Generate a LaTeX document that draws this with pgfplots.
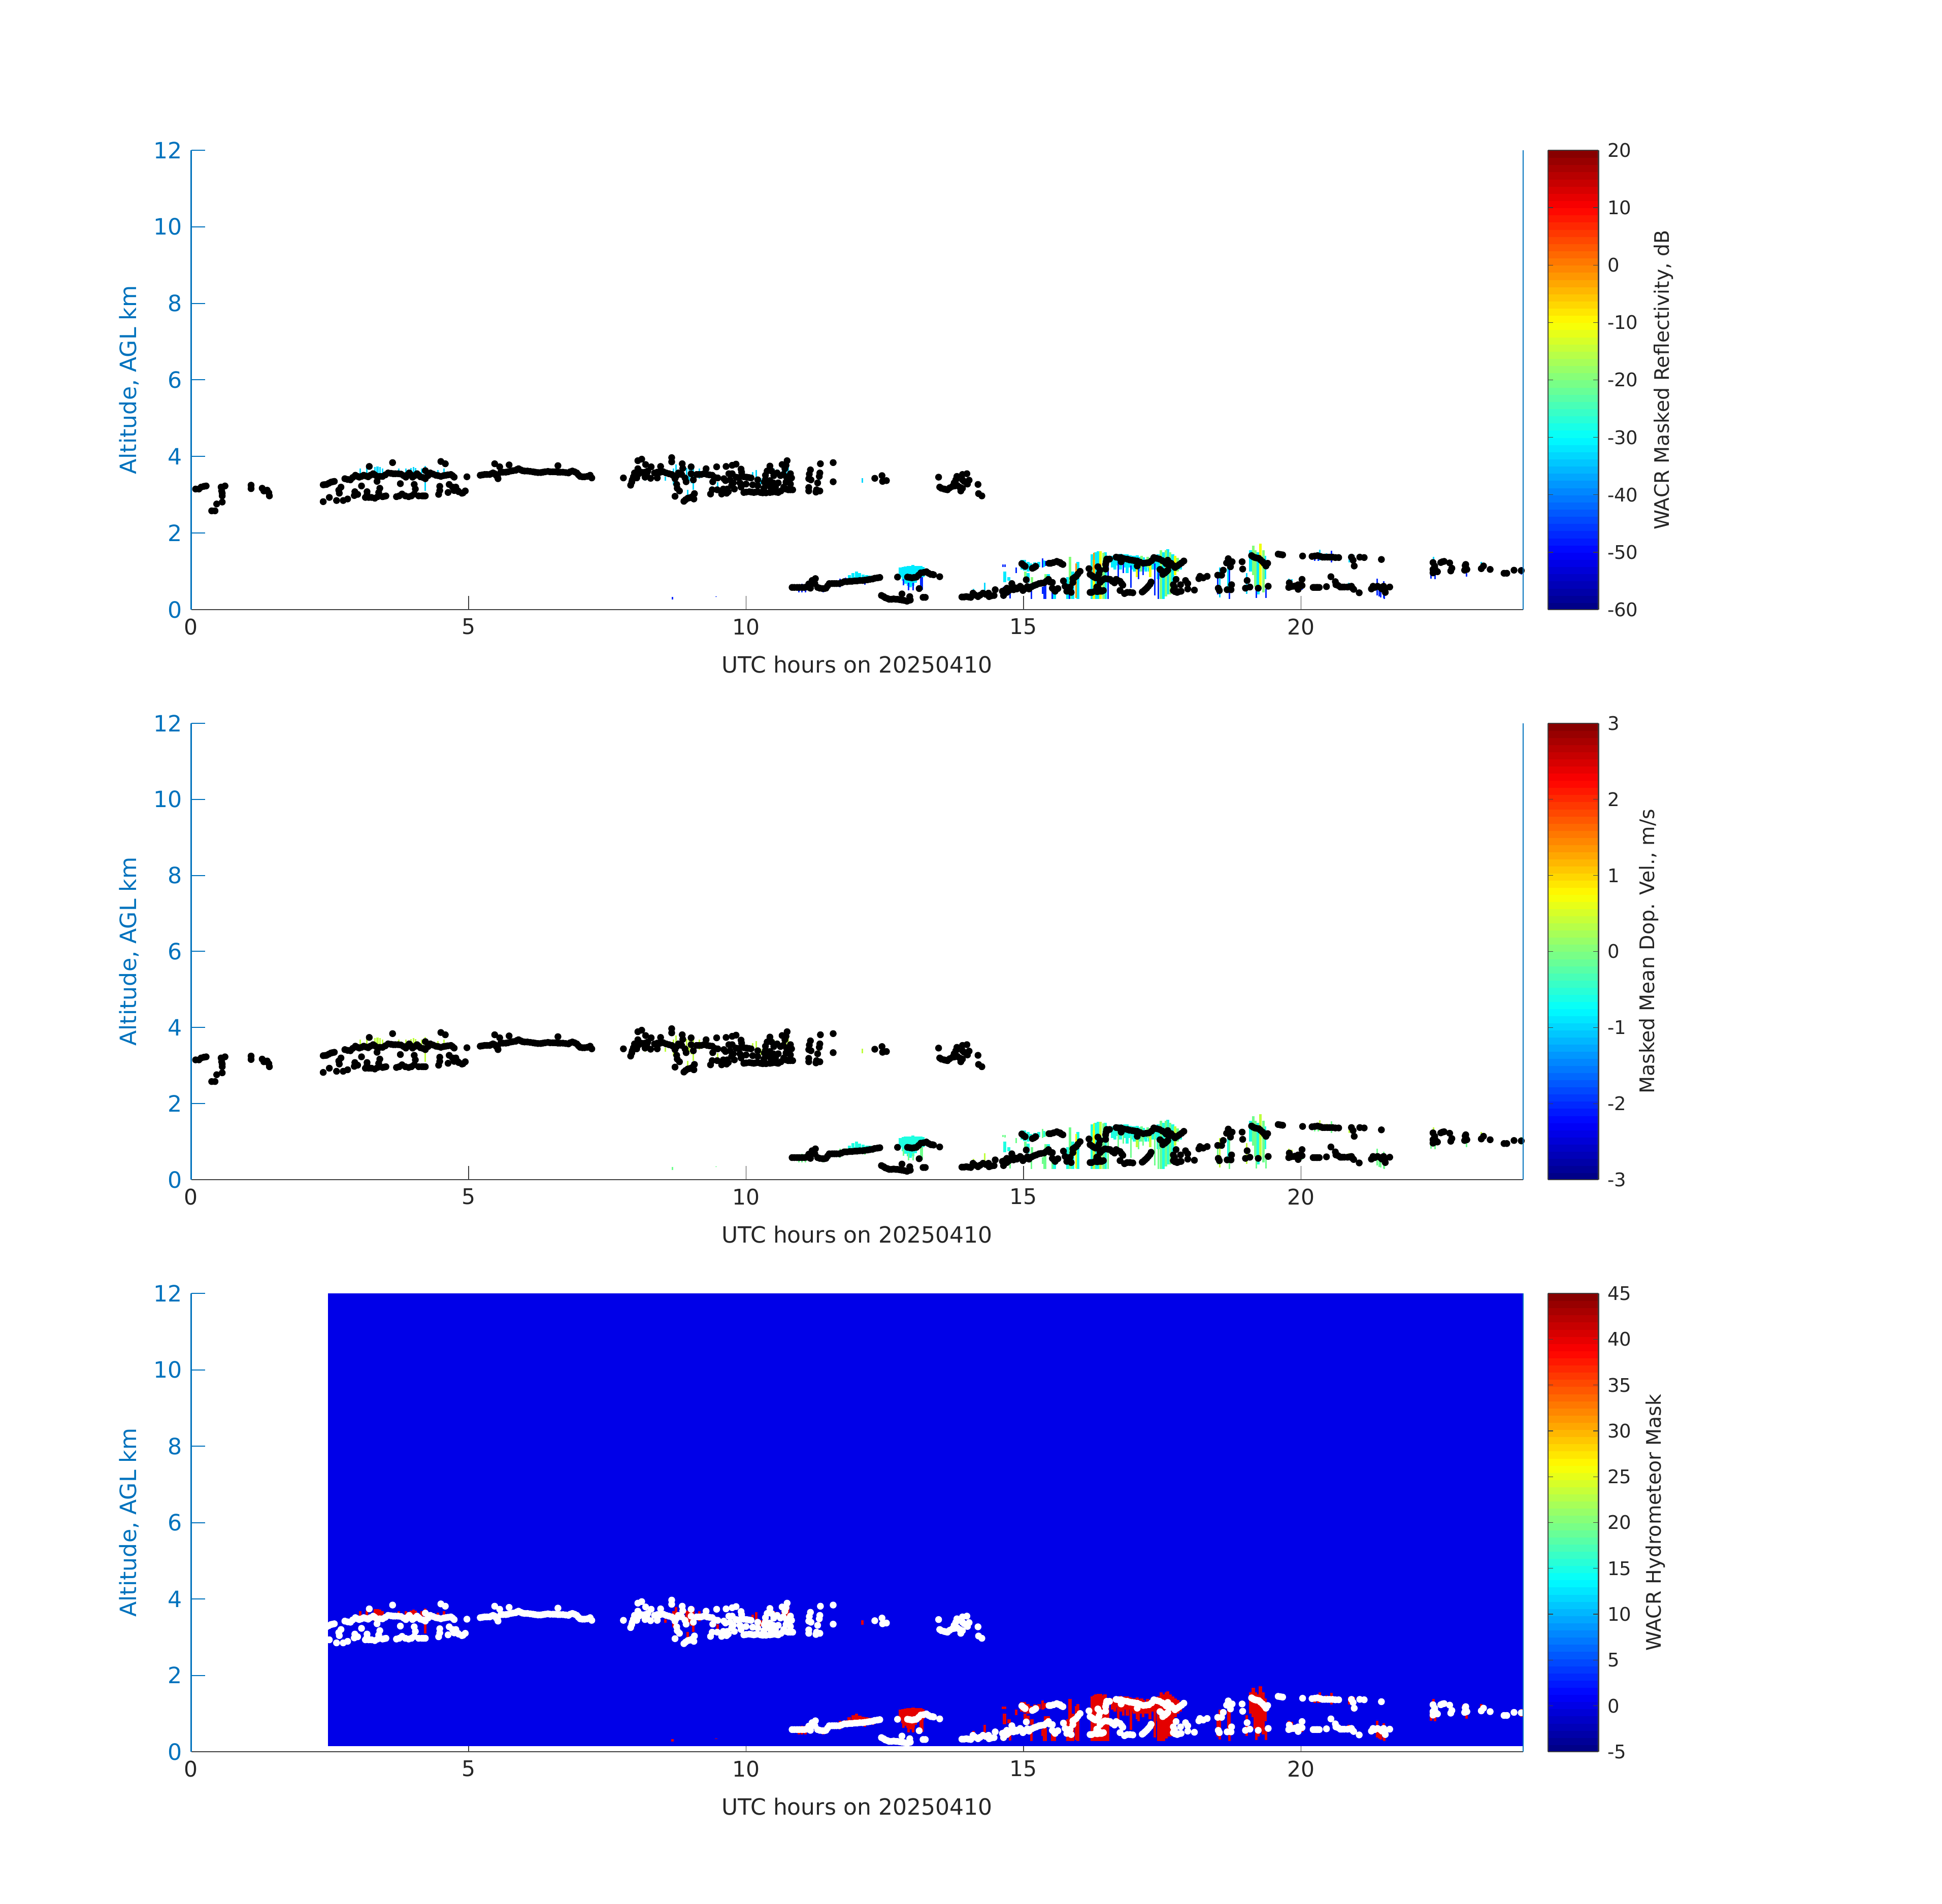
\documentclass[border=0pt]{standalone}
\usepackage{fontspec}
\setmainfont{DejaVu Sans}
\usepackage{pgfplots}
\usepackage{pgfplotstable}
\pgfplotsset{compat=1.18}
\definecolor{axblue}{RGB}{0,114,189}
\definecolor{axgray}{RGB}{64,64,64}
\definecolor{txtgray}{RGB}{38,38,38}
\definecolor{maskblue}{RGB}{0,0,232}
\definecolor{maskred}{RGB}{228,0,0}
\definecolor{jcyan}{RGB}{0,235,255}
\definecolor{jthin}{RGB}{0,215,255}
\definecolor{jlime}{RGB}{130,255,120}
\definecolor{jyel}{RGB}{240,255,0}
\definecolor{jora}{RGB}{255,150,0}
\definecolor{jblue}{RGB}{0,40,255}
\definecolor{vcyan}{RGB}{30,255,225}
\definecolor{vgreen}{RGB}{110,255,140}
\definecolor{vlime}{RGB}{190,255,60}
\pgfplotstableread{
x y
0.08 3.15
0.14 3.15
0.18 3.20
0.23 3.22
0.27 3.23
0.54 3.20
0.61 3.23
0.55 3.10
0.56 3.04
0.56 2.97
0.56 2.81
0.46 2.76
0.37 2.58
0.43 2.58
1.08 3.25
1.08 3.16
1.28 3.17
1.31 3.10
1.37 3.12
1.40 3.05
1.41 2.97
2.38 3.26
2.44 3.27
2.52 3.33
2.58 3.35
2.38 2.82
2.49 2.93
2.62 2.85
2.74 2.85
2.82 2.89
2.94 2.98
2.95 3.08
3.00 3.01
2.70 3.20
2.66 3.12
2.67 3.04
2.77 3.42
2.87 3.39
2.96 3.51
3.03 3.46
3.11 3.51
3.19 3.47
3.28 3.55
3.35 3.48
3.45 3.48
3.55 3.57
3.64 3.55
3.73 3.55
3.78 3.54
3.87 3.46
3.93 3.57
3.99 3.46
4.07 3.55
4.13 3.47
4.22 3.42
4.31 3.57
4.41 3.51
4.50 3.48
4.59 3.51
4.68 3.53
4.74 3.46
3.21 3.74
3.63 3.84
4.50 3.87
4.58 3.81
4.22 3.63
3.35 3.35
3.07 3.23
3.77 3.29
4.02 3.27
3.17 3.08
3.14 2.93
3.20 2.93
3.31 2.91
3.40 3.17
3.38 3.06
3.45 2.95
3.51 2.97
3.70 2.95
3.80 3.02
3.92 2.95
4.02 3.02
4.04 3.15
4.16 2.97
4.22 2.97
4.48 3.22
4.48 3.11
4.46 3.01
4.63 3.06
4.65 3.27
4.71 3.20
4.74 3.11
4.97 3.47
4.77 3.20
4.81 3.10
4.88 3.04
4.94 3.10
5.21 3.51
5.29 3.53
5.38 3.53
5.44 3.57
5.47 3.55
5.52 3.48
5.53 3.42
5.47 3.81
5.56 3.73
5.73 3.78
5.58 3.59
5.67 3.59
5.76 3.62
5.85 3.64
5.90 3.68
5.97 3.63
6.06 3.62
6.16 3.60
6.25 3.58
6.34 3.59
6.43 3.61
6.52 3.60
6.61 3.59
6.70 3.59
6.80 3.57
6.87 3.62
6.95 3.57
7.01 3.48
7.09 3.47
7.19 3.51
7.22 3.44
6.61 3.76
7.79 3.44
7.92 3.25
7.95 3.39
8.03 3.44
7.99 3.57
8.05 3.68
8.05 3.89
8.12 3.93
8.11 3.59
8.18 3.59
8.18 3.46
8.19 3.79
8.29 3.73
8.28 3.43
8.23 3.62
8.40 3.59
8.40 3.44
8.47 3.62
8.56 3.57
8.66 3.53
8.72 3.42
8.78 3.57
8.84 3.53
8.46 3.74
8.66 3.97
8.66 3.86
8.85 3.81
8.86 3.69
8.90 3.44
8.92 3.34
9.01 3.73
9.01 3.55
9.05 3.39
9.11 3.53
9.19 3.53
9.28 3.68
9.30 3.53
9.39 3.51
9.47 3.73
9.40 3.34
9.49 3.44
8.75 3.27
8.76 3.17
8.80 3.10
8.72 2.96
8.88 2.83
8.95 2.91
9.01 2.93
9.07 3.03
9.06 2.89
9.36 3.02
9.39 3.13
9.48 3.13
9.64 3.74
9.75 3.77
9.82 3.80
9.91 3.67
9.92 3.59
10.43 3.75
10.74 3.89
10.65 3.79
10.72 3.77
10.70 3.68
9.56 3.02
9.65 3.04
9.59 3.15
9.66 3.15
9.60 3.42
9.69 3.55
9.75 3.55
9.63 3.37
9.71 3.39
9.82 3.46
9.77 3.31
9.74 3.24
9.79 3.15
9.89 3.31
9.91 3.20
10.00 3.28
9.96 3.06
10.06 3.08
10.14 3.06
10.21 3.08
10.30 3.05
10.43 3.06
10.52 3.08
10.58 3.06
10.68 3.20
10.76 3.13
10.84 3.13
10.80 3.28
10.82 3.44
10.80 3.55
9.92 3.48
10.01 3.46
10.09 3.44
10.12 3.26
10.21 3.24
10.21 3.39
10.32 3.17
10.33 3.33
10.35 3.51
10.38 3.62
10.43 3.37
10.49 3.31
10.53 3.20
10.44 3.20
10.46 3.62
10.56 3.57
10.58 3.31
10.67 3.53
10.73 3.46
10.72 3.33
11.16 3.65
11.14 3.54
11.34 3.81
11.57 3.84
11.17 3.39
11.13 3.42
11.33 3.57
11.32 3.48
11.29 3.31
11.57 3.34
11.13 3.19
11.13 3.10
11.27 3.13
11.33 3.10
11.26 3.07
12.32 3.43
12.45 3.50
12.46 3.35
12.53 3.37
13.47 3.46
13.49 3.20
13.57 3.15
13.63 3.13
13.72 3.22
13.81 3.24
13.90 3.17
13.87 3.10
13.80 3.48
13.78 3.39
13.75 3.31
13.90 3.53
13.98 3.55
13.90 3.39
14.02 3.38
13.99 3.28
14.18 3.27
14.19 3.03
14.25 2.97
10.83 0.58
10.92 0.58
11.01 0.58
11.09 0.59
11.13 0.67
11.16 0.56
11.19 0.76
11.25 0.81
11.24 0.68
11.29 0.58
11.38 0.55
11.44 0.56
11.50 0.68
11.59 0.68
11.68 0.68
11.77 0.73
11.87 0.74
11.96 0.75
12.05 0.76
12.14 0.77
12.23 0.79
12.32 0.82
12.41 0.84
12.73 0.85
12.91 0.85
12.99 0.83
13.07 0.85
13.15 0.96
13.25 0.99
13.33 0.92
13.38 0.91
13.49 0.86
13.12 0.55
13.23 0.32
13.19 0.32
12.44 0.37
12.51 0.31
12.58 0.27
12.66 0.28
12.73 0.27
12.81 0.25
12.90 0.22
12.95 0.34
12.96 0.25
12.81 0.41
13.89 0.33
13.97 0.34
14.05 0.32
14.09 0.43
14.18 0.34
14.27 0.43
14.37 0.43
14.38 0.34
14.47 0.37
14.49 0.52
14.62 0.48
14.64 0.37
14.70 0.45
14.70 0.56
14.79 0.68
14.82 0.52
14.88 0.54
14.94 0.61
14.99 0.50
15.05 0.78
15.10 0.54
15.19 0.63
15.28 0.68
15.37 0.70
15.45 0.79
15.48 0.72
14.97 1.20
15.03 1.13
15.16 1.08
15.22 1.13
15.46 1.21
15.49 1.21
15.60 1.26
15.66 1.23
15.71 1.18
15.52 0.71
15.52 0.56
15.57 0.48
15.62 0.55
15.72 0.75
15.75 0.61
15.78 0.48
15.86 0.45
15.84 0.59
15.89 0.71
15.89 0.81
15.95 0.87
16.02 1.00
16.18 1.07
16.20 0.92
16.27 0.85
16.34 1.12
16.38 1.03
16.36 0.93
16.33 0.83
16.38 0.71
16.41 0.76
16.47 0.81
16.56 0.79
16.64 0.70
16.67 0.79
16.74 0.74
16.79 0.64
16.20 0.45
16.29 0.48
16.32 0.59
16.38 0.48
16.44 0.50
16.48 1.06
16.48 1.18
16.50 1.32
16.55 1.32
16.67 1.37
16.76 1.36
16.76 1.25
16.87 1.32
16.96 1.29
17.05 1.27
17.05 1.14
17.16 1.21
17.26 1.23
17.35 1.36
17.45 1.32
17.46 1.05
17.55 0.96
17.54 1.25
17.60 1.29
17.66 1.21
17.73 1.10
17.81 1.18
17.89 1.27
17.51 0.92
17.60 1.03
16.74 0.50
16.82 0.42
16.87 0.45
16.97 0.44
17.14 0.46
17.19 0.52
17.25 0.61
17.30 0.72
17.75 0.79
17.70 0.65
17.70 0.50
17.77 0.45
17.83 0.65
17.84 0.48
17.92 0.76
17.96 0.68
17.96 0.54
18.08 0.51
18.18 0.87
18.16 0.81
18.24 0.83
18.31 0.87
18.50 0.90
18.57 0.90
18.60 1.03
18.66 1.22
18.69 1.33
18.76 1.25
18.73 1.12
18.94 1.25
18.95 1.06
18.51 0.56
18.53 0.50
18.67 0.52
18.74 0.52
18.75 0.65
19.03 0.76
19.00 0.56
19.08 0.59
19.23 0.56
19.41 0.61
19.11 1.41
19.17 1.36
19.24 1.34
19.31 1.25
19.37 1.14
19.40 1.21
19.59 1.45
19.67 1.43
20.03 1.40
20.20 1.39
20.30 1.41
20.39 1.37
20.48 1.37
20.57 1.37
20.68 1.36
20.91 1.37
20.94 1.29
21.06 1.37
21.14 1.36
20.96 1.14
21.45 1.31
19.79 0.70
19.78 0.58
19.87 0.61
19.95 0.65
20.02 0.79
19.95 0.53
20.02 0.63
20.22 0.58
20.28 0.58
20.33 0.58
20.46 0.60
20.54 0.86
20.62 0.73
20.63 0.65
20.71 0.59
20.74 0.59
20.84 0.59
20.91 0.61
20.95 0.53
21.05 0.44
21.27 0.54
21.30 0.61
21.38 0.61
21.46 0.54
21.52 0.45
21.49 0.61
21.60 0.59
22.38 1.23
22.38 0.96
22.46 0.99
22.41 1.14
22.52 1.23
22.58 1.26
22.68 1.22
22.72 1.08
22.70 1.01
22.97 1.18
22.95 1.03
22.99 1.05
23.25 1.07
23.29 1.14
23.41 1.05
23.66 0.95
23.71 0.95
23.84 1.03
23.97 1.02
2.41 3.265
2.48 3.30
2.55 3.34
2.82 3.40
2.91 3.45
3.00 3.48
3.07 3.48
3.15 3.49
3.23 3.51
3.31 3.52
3.40 3.48
3.50 3.52
3.60 3.56
3.68 3.55
3.83 3.50
3.90 3.52
3.96 3.52
4.03 3.50
4.10 3.51
4.18 3.45
4.27 3.50
4.36 3.54
4.45 3.50
4.55 3.50
4.63 3.52
4.71 3.50
3.17 3.00
3.25 2.93
3.36 2.95
3.48 2.96
3.75 2.97
3.86 2.97
3.97 2.97
4.10 2.97
4.19 2.97
4.82 3.08
4.90 3.05
5.25 3.52
5.33 3.53
5.41 3.55
5.50 3.50
5.62 3.59
5.71 3.60
5.80 3.63
5.87 3.66
5.94 3.65
6.01 3.62
6.11 3.61
6.20 3.59
6.30 3.58
6.38 3.60
6.47 3.60
6.56 3.60
6.65 3.59
6.75 3.58
6.83 3.60
6.91 3.60
6.98 3.52
7.05 3.47
7.14 3.48
8.07 3.55
8.15 3.58
8.21 3.55
8.35 3.57
8.44 3.58
8.51 3.60
8.61 3.55
8.69 3.50
8.75 3.50
8.81 3.55
7.94 3.33
7.97 3.47
8.98 2.92
8.91 2.87
9.03 2.95
9.15 3.53
9.24 3.55
9.34 3.52
9.44 3.45
10.00 3.07
10.10 3.07
10.17 3.07
10.26 3.06
10.36 3.05
10.47 3.07
10.55 3.07
10.63 3.10
10.72 3.15
10.80 3.13
9.60 3.06
9.68 3.08
9.85 3.45
9.96 3.47
10.05 3.45
10.35 3.40
10.40 3.25
10.50 3.50
10.62 3.50
10.77 3.33
13.52 3.17
13.60 3.14
13.67 3.18
13.76 3.23
13.85 3.20
13.93 3.35
10.87 0.58
10.96 0.58
11.05 0.58
11.33 0.56
11.41 0.55
11.47 0.62
11.55 0.68
11.63 0.68
11.72 0.70
11.82 0.73
11.91 0.74
12.00 0.75
12.10 0.76
12.19 0.78
12.28 0.80
12.37 0.83
12.48 0.34
12.55 0.29
12.62 0.27
12.70 0.27
12.77 0.26
12.85 0.24
12.93 0.24
12.95 0.84
13.03 0.84
13.11 0.90
13.20 0.97
13.29 0.95
13.36 0.92
13.93 0.33
14.01 0.33
14.13 0.38
14.22 0.38
14.32 0.40
14.42 0.36
14.66 0.50
14.74 0.50
14.78 0.55
14.85 0.57
14.91 0.57
14.97 0.57
15.03 0.55
15.07 0.60
15.15 0.60
15.23 0.65
15.32 0.69
15.41 0.74
15.00 1.16
15.19 1.10
15.54 1.23
15.63 1.24
15.68 1.20
15.92 0.84
15.98 0.93
15.80 0.50
15.55 0.52
16.23 0.45
16.33 0.47
16.35 0.55
16.41 0.48
16.24 0.88
16.30 0.83
16.44 0.79
16.52 0.80
16.60 0.74
16.70 0.76
16.77 0.68
16.49 1.25
16.71 1.36
16.81 1.33
16.91 1.30
17.00 1.28
17.10 1.24
17.21 1.22
17.31 1.28
17.40 1.34
17.50 1.28
17.57 1.20
17.63 1.15
17.58 1.00
17.50 1.00
17.70 1.15
17.77 1.14
17.85 1.22
17.16 0.48
17.22 0.56
17.28 0.66
16.92 0.45
17.73 0.47
17.80 0.47
17.72 0.58
19.14 1.38
19.20 1.35
19.27 1.30
19.34 1.20
19.63 1.44
20.25 1.40
20.35 1.39
20.43 1.37
20.52 1.37
20.62 1.36
19.82 0.60
19.90 0.62
19.99 0.63
20.25 0.58
20.30 0.58
20.67 0.63
20.78 0.59
20.88 0.60
20.93 0.56
21.33 0.58
21.43 0.58
21.51 0.52
22.38 1.05
22.40 0.98
22.42 1.05
22.55 1.25
22.97 1.10
22.96 1.15
}\tblDots
% upper-cloud and thin streaks
\pgfplotstableread{
x lo hi
3.05 3.50 3.68
3.17 3.53 3.70
3.31 3.42 3.73
3.35 3.42 3.74
3.37 3.42 3.74
3.40 3.50 3.72
3.45 3.57 3.68
3.74 3.48 3.68
3.87 3.50 3.68
3.96 3.42 3.70
4.01 3.42 3.72
4.04 3.42 3.70
4.15 3.53 3.68
4.22 3.10 3.75
4.25 3.50 3.68
4.45 3.50 3.64
4.56 3.53 3.68
8.18 3.37 3.45
8.55 3.37 3.47
8.69 3.26 3.68
8.74 3.55 3.79
8.93 3.42 3.70
8.97 3.37 3.59
8.98 3.37 3.68
9.01 3.30 3.68
9.05 3.13 3.79
9.16 3.42 3.68
8.95 2.91 3.13
9.38 3.11 3.22
9.49 3.20 3.33
10.12 3.42 3.59
10.18 3.33 3.65
10.27 3.28 3.44
10.50 3.50 3.68
10.58 3.50 3.66
10.66 3.59 3.70
10.72 3.50 3.64
10.76 3.50 3.86
11.32 3.28 3.44
12.10 3.32 3.44
20.34 1.29 1.56
20.46 1.29 1.47
20.87 1.23 1.43
20.95 1.05 1.43
19.78 0.72 0.81
19.84 0.52 0.79
20.86 0.55 0.70
22.39 1.20 1.38
22.93 1.14 1.23
23.25 1.03 1.25
19.02 0.41 0.96
18.54 0.32 1.10
14.30 0.50 0.70
14.10 0.45 0.55
}\tblThin
% blue edges
\pgfplotstableread{
x lo hi
8.67 0.26 0.33
9.46 0.33 0.35
10.95 0.45 0.65
11.01 0.45 0.68
11.07 0.45 0.68
11.39 0.45 0.61
11.69 0.58 0.81
11.79 0.65 0.83
12.14 0.65 0.77
12.29 0.71 0.81
12.84 0.63 0.80
12.93 0.51 0.70
13.01 0.51 0.70
13.15 0.56 0.85
13.18 0.52 0.85
14.64 0.28 0.59
14.76 0.29 0.54
15.14 0.28 0.50
15.34 0.41 0.59
15.37 0.28 0.61
15.40 0.28 0.63
14.87 0.96 1.10
14.63 1.12 1.18
14.67 1.11 1.18
15.34 1.10 1.34
15.40 1.14 1.27
15.52 0.28 0.55
15.83 0.28 0.40
16.52 0.28 1.40
16.71 0.80 1.30
16.80 0.95 1.25
16.94 0.57 1.15
17.07 0.80 1.20
17.16 0.90 1.15
17.37 0.37 1.20
17.43 0.28 1.10
18.50 0.40 0.90
18.71 0.28 1.34
19.37 0.30 0.55
19.20 0.30 0.60
20.25 1.27 1.47
20.31 1.27 1.49
20.55 1.23 1.54
20.65 1.29 1.43
20.02 0.52 0.74
21.37 0.37 0.81
21.41 0.34 0.54
21.44 0.32 0.54
21.49 0.30 0.74
21.50 0.28 0.54
22.34 0.81 1.03
22.42 0.80 0.94
22.98 0.86 0.96
23.97 0.92 1.12
}\tblBlue
% cyan swaths
\pgfplotstableread{
x lo hi
11.86 0.80 0.90
11.93 0.80 0.96
11.99 0.80 1.00
12.05 0.80 0.95
12.11 0.80 0.92
12.17 0.80 0.90
12.23 0.82 0.89
12.78 0.85 1.10
12.83 0.75 1.12
12.87 0.68 1.13
12.92 0.62 1.14
12.96 0.58 1.14
13.01 0.62 1.16
13.05 0.70 1.14
13.10 0.80 1.14
13.15 0.85 1.14
13.19 0.85 1.12
14.97 1.05 1.30
15.02 1.02 1.30
15.08 1.00 1.25
15.13 1.05 1.20
15.20 1.10 1.23
15.28 1.12 1.25
15.36 1.12 1.28
14.66 0.72 1.00
14.74 0.75 0.85
15.08 0.70 0.95
15.45 0.70 0.93
15.56 0.28 0.50
15.80 0.28 0.85
15.89 0.28 1.00
15.98 0.28 1.25
16.24 0.28 1.45
16.30 0.28 1.50
16.35 0.28 1.52
16.47 0.28 1.50
16.60 1.10 1.40
16.65 1.05 1.42
16.70 1.15 1.44
16.75 1.05 1.46
16.82 1.10 1.45
16.87 0.95 1.45
16.92 1.10 1.42
16.97 1.05 1.40
17.00 1.00 1.40
17.05 1.10 1.42
17.10 1.00 1.38
17.16 1.05 1.36
17.21 1.00 1.28
17.27 1.00 1.30
17.32 1.05 1.40
17.37 1.05 1.42
17.43 0.80 1.45
17.52 0.28 1.50
17.60 0.40 1.58
17.69 0.60 1.45
17.83 1.05 1.30
18.70 0.55 1.30
19.09 1.00 1.55
19.23 0.40 1.50
19.35 0.80 1.40
}\tblCyan
% lime
\pgfplotstableread{
x lo hi
15.03 0.78 1.00
15.15 0.70 0.85
15.40 0.70 0.93
15.84 0.28 1.38
16.44 0.28 1.48
17.13 1.00 1.40
17.24 1.10 1.38
17.48 0.28 1.55
17.57 0.35 1.55
17.64 0.40 1.50
17.78 1.00 1.35
19.14 0.90 1.67
19.18 0.60 1.55
19.32 0.45 1.55
}\tblLime
% yellow
\pgfplotstableread{
x lo hi
16.27 0.28 1.30
16.39 0.28 1.52
17.05 0.85 1.20
17.28 0.85 1.20
17.73 0.90 1.40
19.27 0.55 1.72
}\tblYellow
% orange core
\pgfplotstableread{
x lo hi
15.95 0.30 1.20
16.27 0.85 1.48
16.39 0.85 1.20
}\tblOrange
\newcommand{\streak}[3]{%
 \addplot[draw=none,no marks,forget plot,
   error bars/.cd,y dir=plus,y explicit,error mark=none,
   error bar style={line width=#3,color=#2,solid}]
   table[x=x,y=lo,y error expr=\thisrow{hi}-\thisrow{lo}] {#1};}
\pgfplotsset{
 colormap={mjet}{rgb255(0)=(0,0,128) rgb255(1)=(0,0,255) rgb255(3)=(0,255,255) rgb255(5)=(255,255,0) rgb255(7)=(255,0,0) rgb255(8)=(128,0,0)},
 panel/.style={
  scale only axis,width=524.6pt,anchor=south west,
  xmin=0,xmax=24,ymin=0,ymax=12,
  xtick={0,5,10,15,20},ytick={0,2,...,12},
  axis x line*=bottom,axis y line*=left,
  tick align=inside,
  major tick length=5.4pt,
  /pgf/number format/assume math mode=true,
  x axis line style={color=axgray,line width=0.5pt},
  y axis line style={color=axblue,line width=0.5pt},
  xtick style={color=axgray,line width=0.25pt},
  ytick style={color=axblue,line width=0.4pt},
  xticklabel style={font=\fontsize{8.5}{10}\selectfont,text=txtgray},
  yticklabel style={font=\fontsize{8.85}{10}\selectfont,text=axblue},
  xlabel={UTC hours on 20250410},
  ylabel={Altitude, AGL km},
  xlabel style={font=\fontsize{8.82}{10}\selectfont,text=txtgray,yshift=-1.4pt},
  ylabel style={font=\fontsize{8.85}{10}\selectfont,text=axblue,yshift=-1pt},
  colormap name=mjet,
  colorbar,colorbar sampled,
  clip=false,
  after end axis/.code={\draw[axblue,line width=0.4pt] (rel axis cs:1,0)--(rel axis cs:1,1);},
 },
 cbar/.style={
  at={(parent axis.north east)},anchor=north west,xshift=1.34pt,
  width=19.9pt,samples=65,
  axis line style={color=axgray,line width=0.5pt},
  ytick style={color=axgray,line width=0.25pt},
  major tick length=2pt,
  yticklabel pos=right,
  /pgf/number format/assume math mode=true,
  yticklabel style={font=\fontsize{7.4}{9}\selectfont,text=txtgray,xshift=0pt},
  ylabel style={font=\fontsize{7.9}{9}\selectfont,text=txtgray},
 },
}
\begin{document}
\begin{tikzpicture}[x=1pt,y=1pt]
\path[use as bounding box] (0,0) rectangle (765,750);
\begin{axis}[panel,at={(75.3pt,509.8pt)},height=181pt,
  point meta min=-60,point meta max=20,
  colorbar style={cbar,ytick={-60,-50,...,20},ylabel={WACR Masked Reflectivity, dB},ylabel style={yshift=0.7pt}}]
 \streak{\tblThin}{jthin}{0.6pt}
 \streak{\tblCyan}{jcyan}{1.2pt}
 \streak{\tblLime}{jlime}{1.0pt}
 \streak{\tblYellow}{jyel}{1.0pt}
 \streak{\tblOrange}{jora}{0.6pt}
 \streak{\tblBlue}{jblue}{0.6pt}
 \addplot[only marks,mark=*,mark size=1.15pt,black,forget plot] table[x=x,y=y] {\tblDots};
\end{axis}
\begin{axis}[panel,at={(75.3pt,285.2pt)},height=179.8pt,
  point meta min=-3,point meta max=3,
  colorbar style={cbar,ytick={-3,-2,...,3},ylabel={Masked Mean Dop. Vel., m/s},ylabel style={yshift=1.8pt}}]
 \streak{\tblThin}{vlime}{0.6pt}
 \streak{\tblCyan}{vcyan}{1.2pt}
 \streak{\tblBlue}{vgreen}{0.6pt}
 \streak{\tblLime}{vgreen}{1.0pt}
 \streak{\tblYellow}{vlime}{1.0pt}
 \streak{\tblOrange}{jyel}{0.5pt}
 \addplot[only marks,mark=*,mark size=1.15pt,black,forget plot] table[x=x,y=y] {\tblDots};
\end{axis}
\begin{axis}[panel,at={(75.3pt,59.8pt)},height=180.6pt,
  point meta min=-5,point meta max=45,
  colorbar style={cbar,ytick={-5,0,...,45},ylabel={WACR Hydrometeor Mask},ylabel style={yshift=1.3pt}}]
 \addplot[fill=maskblue,draw=none,forget plot] coordinates {(2.465,0.14) (24,0.14) (24,12) (2.465,12)} -- cycle;
 \streak{\tblThin}{maskred}{1.0pt}
 \streak{\tblBlue}{maskred}{1.0pt}
 \streak{\tblCyan}{maskred}{1.3pt}
 \streak{\tblLime}{maskred}{1.3pt}
 \streak{\tblYellow}{maskred}{1.3pt}
 \streak{\tblOrange}{maskred}{1.0pt}
 \addplot[only marks,mark=*,mark size=1.15pt,white,forget plot] table[x=x,y=y] {\tblDots};
\end{axis}
\end{tikzpicture}
\end{document}
